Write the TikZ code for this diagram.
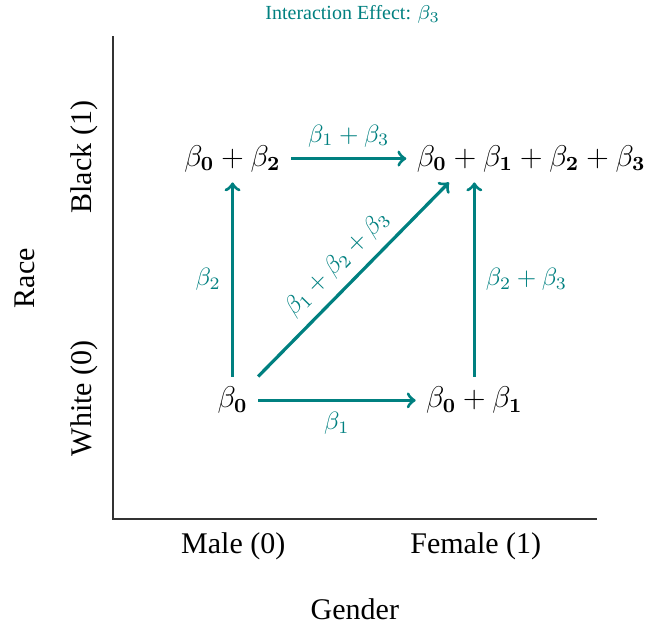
\documentclass[tikz,border=0pt,12pt]{standalone}
\usepackage{amsmath}
\usepackage[no-math]{fontspec}
\setmainfont{Liberation Serif}
\usepackage{tikz}
\definecolor{effteal}{HTML}{008080}
\definecolor{axisgray}{HTML}{333333}

\begin{document}
\begin{tikzpicture}[
  arr/.style={->, line width=1.3pt, effteal},
  lbl/.style={font=\footnotesize, text=effteal},
  axis/.style={thick, axisgray}
]
\useasboundingbox (-1.59,-1.50) rectangle (7.55,7.30);

% axes
\coordinate (origin) at (0,0);
\coordinate (ytop) at (0,6.79);
\coordinate (xend) at (6.80,0);
\draw[axis] (ytop) -- (origin) -- (xend);

% axis labels
\node (male) at (1.69,-0.38) {Male (0)};
\node (female) at (5.10,-0.38) {Female (1)};
\node (gender) at (3.40,-1.27) {Gender};
\node[rotate=90] (white) at (-0.41,1.70) {White (0)};
\node[rotate=90] (black) at (-0.41,5.09) {Black (1)};
\node[rotate=90] (race) at (-1.24,3.39) {Race};

\node[font=\scriptsize, text=effteal] (title) at (3.37,7.10) {Interaction Effect: $\beta_3$};

% cell means
\node (b0) at (1.68,1.67) {$\beta_{\mathbf{0}}$};
\node (b01) at (5.08,1.67) {$\beta_{\mathbf{0}} + \beta_{\mathbf{1}}$};
\node (b02) at (1.68,5.07) {$\beta_{\mathbf{0}} + \beta_{\mathbf{2}}$};
\node (b0123) at (5.88,5.07) {$\beta_{\mathbf{0}} + \beta_{\mathbf{1}} + \beta_{\mathbf{2}} + \beta_{\mathbf{3}}$};

% effects
\draw[arr] (b0) -- node[lbl, below] {$\beta_1$} (b01);
\draw[arr] (b0.north) -- node[lbl, left] {$\beta_2$} (b0.north |- b02.south);
\draw[arr] (b01.north) -- node[lbl, right] {$\beta_2 + \beta_3$} (b01.north |- b0123.south);
\draw[arr] (b02) -- node[lbl, above] {$\beta_1 + \beta_3$} (b0123);
\draw[arr] (b0.north east) -- node[lbl, sloped, above] {$\beta_1 + \beta_2 + \beta_3$} ([xshift=0.6cm]b0123.south west);

\end{tikzpicture}
\end{document}
